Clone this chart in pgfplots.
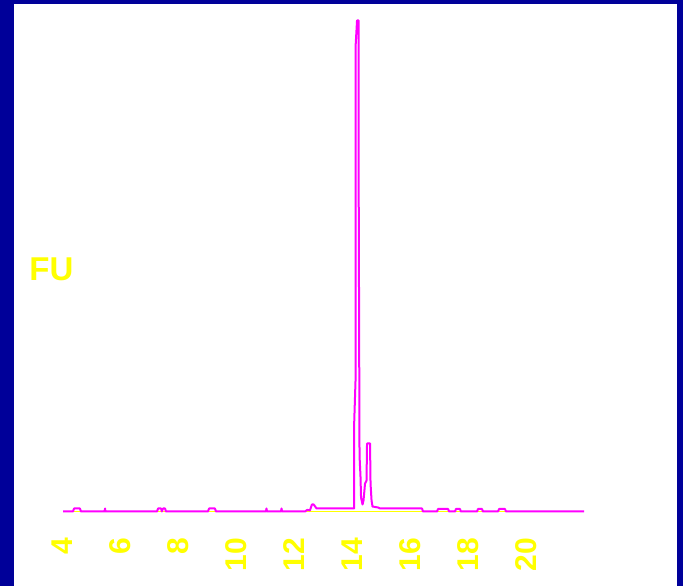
\documentclass[border=0pt]{standalone}
\usepackage{pgfplots}
\pgfplotsset{compat=1.18}
\usepackage{fontspec}
\setmainfont{Liberation Sans}
\definecolor{navybg}{RGB}{0,0,153}
\definecolor{trace}{RGB}{255,0,255}
\definecolor{lab}{RGB}{255,255,0}
\begin{document}
\begin{tikzpicture}
\useasboundingbox (0,0) rectangle (683pt,586pt);
\fill[navybg] (0,0) rectangle (683pt,586pt);
\fill[white] (14pt,0) rectangle (677pt,582pt);
\begin{axis}[
  at={(62.5pt,74.5pt)}, anchor=south west,
  scale only axis, width=521.5pt, height=491pt,
  xmin=4, xmax=22, ymin=0, ymax=491,
  clip=false,
  axis line style={draw=none},
  major tick length=0pt,
  ytick=\empty,
  xtick={4,6,8,10,12,14,16,18,20},
  /pgf/number format/assume math mode=true,
  xticklabel style={rotate=90, anchor=east, inner sep=0pt, xshift=-26.5pt,
    text=lab, font=\fontsize{30}{34}\selectfont\bfseries},
  ylabel={FU},
  ylabel style={rotate=-90, at={(axis description cs:-0.0211,0.494)}, anchor=center,
    inner sep=0pt, text=lab, font=\fontsize{33}{38}\selectfont\bfseries},
]
\addplot[lab, line width=1pt] coordinates {(4.02,0) (22.0,0)};
\addplot[trace, line width=2pt, line join=round] coordinates {
(4.02,0) (4.36,0) (4.40,3) (4.60,3) (4.64,0)
(5.45,0) (5.47,3) (5.48,0)
(7.26,0) (7.30,3) (7.40,3) (7.43,0) (7.47,3) (7.54,3) (7.57,0)
(9.02,0) (9.06,3) (9.26,3) (9.30,0)
(11.02,0) (11.04,3) (11.06,0)
(11.54,0) (11.56,3) (11.58,0)
(12.37,0) (12.44,1.5) (12.47,1.5) (12.54,1) (12.61,7) (12.67,7) (12.77,3) (12.82,3)
(14.062,3) (14.062,83) (14.114,131) (14.114,464) (14.166,491) (14.218,491)
(14.224,316) (14.252,56) (14.287,34) (14.304,14) (14.356,7) (14.39,11)
(14.442,28) (14.494,31) (14.511,68) (14.615,68) (14.632,28) (14.667,11)
(14.70,5) (14.89,4) (14.96,3) (16.41,3) (16.44,0)
(16.93,0) (16.96,2.5) (17.31,2.5) (17.34,0)
(17.55,0) (17.58,2.5) (17.72,2.5) (17.75,0)
(18.31,0) (18.34,2.5) (18.48,2.5) (18.51,0)
(19.03,0) (19.07,2.5) (19.27,2.5) (19.31,0)
(22.0,0)
};
\end{axis}
\end{tikzpicture}
\end{document}
